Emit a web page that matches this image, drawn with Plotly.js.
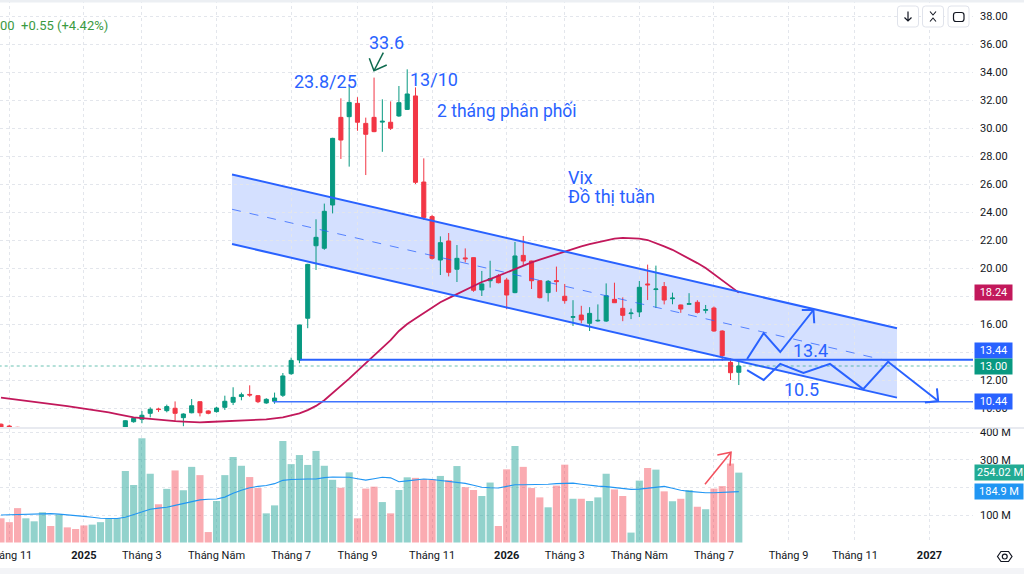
<!DOCTYPE html>
<html><head><meta charset="utf-8">
<script src="https://cdn.plot.ly/plotly-3.0.1.min.js"></script>
<style>html,body{margin:0;padding:0;background:#fff;overflow:hidden}#chart{width:1024px;height:574px}</style>
</head><body><div id="chart"></div>
<script>
// ---- Weekly OHLC (bar index 0..89) ----
const openP = [8.84,8.71,8.62,8.20,8.30,8.35,8.50,8.30,8.45,8.30,8.20,8.05,8.15,8.25,8.30,
8.45,9.02,9.19,9.62,9.93,9.81,9.98,9.31,9.66,10.45,9.79,9.74,10.05,10.41,10.82,10.97,10.88,10.36,10.48,10.91,12.45,13.43,16.41,21.59,21.41,24.50,30.76,30.81,31.76,30.33,30.76,30.42,30.41,30.86,31.33,32.29,26.14,23.67,20.57,21.93,19.91,20.72,20.74,18.43,19.09,19.43,19.14,18.24,20.90,20.50,19.09,18.24,19.10,17.98,16.48,16.64,16.05,16.22,16.21,17.76,17.12,16.74,16.86,18.86,18.46,18.67,17.81,17.36,17.41,17.55,16.98,17.14,15.50,13.26,12.55];
const highP = [8.90,8.80,8.65,8.45,8.50,8.55,8.55,8.55,8.50,8.40,8.30,8.25,8.35,8.45,8.55,
9.12,9.32,9.79,10.05,10.02,10.24,10.47,9.62,10.64,10.47,9.84,10.09,10.88,11.48,11.10,11.62,10.92,10.70,11.10,12.50,13.60,15.95,20.30,23.48,24.60,29.30,32.12,33.07,32.20,30.74,33.60,32.05,31.90,33.00,34.19,32.90,27.83,23.80,22.26,22.50,21.64,21.40,20.76,19.79,20.52,19.57,19.30,21.86,22.29,20.52,19.14,19.14,20.10,18.86,17.70,17.30,17.20,17.40,18.90,18.95,17.90,17.10,19.07,20.24,20.17,19.00,18.24,17.38,18.20,17.70,17.36,17.25,15.55,13.55,13.48];
const lowP = [8.30,8.30,8.20,8.10,8.15,8.25,8.20,8.20,8.20,8.10,7.95,7.95,8.05,8.15,8.20,
8.40,8.95,8.91,9.33,9.72,9.69,9.04,8.70,9.62,9.40,9.55,9.67,9.86,10.21,10.55,10.80,10.35,10.30,10.30,10.79,12.37,13.20,15.70,19.86,21.30,23.90,27.79,27.24,29.80,26.64,29.70,28.30,29.86,30.80,31.29,26.00,23.43,20.60,19.50,19.40,19.00,20.40,18.30,18.00,18.60,18.90,17.05,18.20,20.17,18.50,17.83,17.60,18.30,17.45,15.86,16.05,15.50,16.16,16.15,17.50,16.20,16.35,16.50,17.71,17.14,17.40,17.41,16.80,17.38,16.75,16.76,15.45,13.36,12.00,11.64];
const closeP = [8.50,8.45,8.40,8.35,8.40,8.50,8.35,8.45,8.30,8.20,8.05,8.15,8.25,8.35,8.45,
9.09,9.26,9.48,9.91,9.89,10.10,9.62,9.57,10.16,9.66,9.62,10.00,10.48,10.76,10.95,10.93,10.45,10.62,10.71,12.29,13.40,15.93,20.26,22.19,24.05,29.26,29.14,31.83,30.41,29.55,29.74,30.48,29.98,31.81,32.43,26.12,23.60,20.69,21.81,19.69,20.69,20.66,18.41,18.86,19.24,18.95,18.07,20.86,20.50,19.09,17.88,19.05,19.03,17.67,16.52,16.29,16.76,16.26,18.02,17.52,16.62,16.78,18.62,18.80,18.50,17.71,17.85,17.07,17.45,16.83,17.02,15.50,13.74,12.52,13.00];
// moving average on price (crimson line)
const maPrice = [10.74,10.67,10.59,10.52,10.44,10.37,10.29,10.21,10.13,10.05,9.97,9.89,9.81,9.69,9.57,9.45,9.33,9.27,9.21,9.15,9.09,9.06,9.03,9.00,8.98,9.00,9.02,9.05,9.07,9.10,9.13,9.16,9.19,9.26,9.33,9.47,9.62,9.85,10.15,10.55,11.05,11.55,12.10,12.65,13.20,13.75,14.30,14.85,15.50,16.00,16.40,16.80,17.20,17.55,17.85,18.15,18.45,18.75,19.00,19.20,19.45,19.70,19.95,20.20,20.40,20.60,20.80,20.95,21.15,21.35,21.55,21.70,21.85,22.00,22.10,22.15,22.15,22.10,22.00,21.80,21.55,21.30,21.00,20.70,20.35,20.00,19.55,19.10,18.70,18.24];
// volume (millions) and its moving average
const volume = [88,74,125,88,77,110,60,102,55,49,62,65,74,89,89,260,209,379,250,139,195,262,190,275,245,38,151,245,311,279,238,198,106,135,369,285,318,282,333,279,228,199,255,88,196,203,147,106,191,237,235,230,230,242,227,278,201,191,169,218,60,266,351,275,198,164,128,207,283,159,159,151,164,250,193,169,36,225,271,265,186,150,159,191,130,121,196,205,287,254.02];
const volMA = [100,101,102,103,104,105,105,103,101,98,95,92,88,87,87,92,102,112,121,125,128,135,142,149,155,157,158,165,179,190,199,204,207,214,226,229,231,231,231,236,238,238,237,232,227,232,237,235,221,224,227,231,229,225,221,218,215,208,201,199,198,204,210,210,210,210,212,214,216,216,212,208,205,203,199,196,193,194,198,202,204,197,190,186,183,181,181,182,183,184.9];
// time axis ticks (bar index positions) and labels
const tickPos  = [1,10,17,26,35,43,52,61,68,77,86,95,103,112];
const tickText = ['Tháng 11','<b>2025</b>','Tháng 3','Tháng Năm','Tháng 7','Tháng 9','Tháng 11','<b>2026</b>','Tháng 3','Tháng Năm','Tháng 7','Tháng 9','Tháng 11','<b>2027</b>'];
const priceTicks = [10,12,14,16,18,20,22,24,26,28,30,32,34,36,38];
const priceHidden = [14,18];      // tick labels covered by the value labels
const volTicks = [100,200,300,400];
const volHidden = [200];
// drawn levels
const levels = [13.44, 10.44];

const W=1024,H=574,MR=51,MB=31;
const PW=W-MR, PH=H-MB;
const px = x => x/PW, py = y => (PH-y)/PH;
const P = (x,y) => px(x).toFixed(5)+','+py(y).toFixed(5);

const UP='#089981', DN='#f23645', BLUE='#2962ff', MA='#c2185b', VMA='#2196f3';
const idx = closeP.map((_,i)=>i);
const n = closeP.length;
const volColors = closeP.map((c,i)=> c>=openP[i] ? 'rgba(38,166,154,0.5)' : 'rgba(242,54,69,0.42)');

const traces = [
 {type:'bar', x:idx, y:volume, xaxis:'x', yaxis:'y2', marker:{color:volColors, line:{width:0}}, hoverinfo:'skip'},
 {type:'scatter', mode:'lines', x:idx, y:volMA, xaxis:'x', yaxis:'y2', line:{color:VMA,width:1.1}, hoverinfo:'skip'},
 {type:'scatter', mode:'lines', x:idx, y:maPrice, xaxis:'x', yaxis:'y', line:{color:MA,width:1.8}, hoverinfo:'skip'},
 {type:'candlestick', x:idx, open:openP, high:highP, low:lowP, close:closeP, xaxis:'x', yaxis:'y',
  increasing:{line:{color:UP,width:1}, fillcolor:UP}, decreasing:{line:{color:DN,width:1}, fillcolor:DN},
  whiskerwidth:0, hoverinfo:'skip'}
];

const lineD = (pts, color, width, dash, yref) => ({type:'path', xref:'x', yref:yref||'y', layer:'above',
  path: pts.map((p,i)=>(i?'L':'M')+p[0]+','+p[1]).join(' '), line:{color, width, dash:dash||'solid'}});

const chU = [[27.87,26.68],[108.08,15.69]], chL = [[27.87,21.71],[108.08,10.74]];
const chM = [[27.87,(26.68+21.71)/2],[108.08,(15.69+10.74)/2]];

function roundRect(x0,y0,x1,y1,r){
  return `M${P(x0+r,y0)} L${P(x1-r,y0)} Q${P(x1,y0)} ${P(x1,y0+r)} L${P(x1,y1-r)} Q${P(x1,y1)} ${P(x1-r,y1)} L${P(x0+r,y1)} Q${P(x0,y1)} ${P(x0,y1-r)} L${P(x0,y0+r)} Q${P(x0,y0)} ${P(x0+r,y0)} Z`;
}
const ICON='#131722';
const shapes = [
 {type:'path', xref:'x', yref:'y', layer:'below', path:`M${chU[0][0]},${chU[0][1]} L${chU[1][0]},${chU[1][1]} L${chL[1][0]},${chL[1][1]} L${chL[0][0]},${chL[0][1]} Z`, fillcolor:'rgba(41,98,255,0.2)', line:{width:0}},
 lineD(chU, BLUE, 2), lineD(chL, BLUE, 2), lineD(chM, 'rgba(41,98,255,0.75)', 1, 'dash'),
 {type:'line', xref:'x', yref:'y', x0:36.07, x1:117.3, y0:levels[0], y1:levels[0], line:{color:BLUE,width:2}, layer:'above'},
 {type:'line', xref:'x', yref:'y', x0:32.85, x1:117.3, y0:levels[1], y1:levels[1], line:{color:'#3f74ff',width:1.5}, layer:'above'},
 {type:'line', xref:'x', yref:'y', x0:-1, x1:117.3, y0:closeP[n-1], y1:closeP[n-1], line:{color:'rgba(8,153,129,0.6)',width:1,dash:'dot'}, layer:'above'},
 lineD([[90,13.5],[92,15.35],[94,14.0],[98,17.0]], BLUE, 2),
 lineD([[96.6,17.0],[98,17.0],[98.1,16.05]], BLUE, 2),
 lineD([[90,12.7],[92,12.0],[94,13.15],[96.8,12.5],[100,13.15],[104,11.35],[107,13.3],[113.05,10.5]], BLUE, 2),
 lineD([[112.9,11.4],[113.05,10.5],[111.45,10.4]], BLUE, 2),
 lineD([[46.12,35.38],[44.99,34.09]], '#0f6b4f', 1.5),
 lineD([[44.43,34.98],[44.99,34.09],[46.53,34.5]], '#0f6b4f', 1.5),
 lineD([[84.92,211.6],[88.06,328]], '#f2505d', 1.5, 'solid', 'y2'),
 lineD([[86.41,318],[88.06,328],[87.94,279]], '#f2505d', 1.5, 'solid', 'y2'),
 {type:'line', xref:'paper', yref:'paper', x0:0, x1:px(1024), y0:py(428), y1:py(428), line:{color:'#e0e3eb',width:1.5}},
 {type:'rect', xref:'paper', yref:'paper', x0:0, x1:px(1024), y0:py(0), y1:py(2.5), fillcolor:'#eceff3', line:{width:0}},
 {type:'rect', xref:'paper', yref:'paper', x0:0, x1:px(1024), y0:py(568), y1:py(574), fillcolor:'#f3f4f7', line:{width:0}},
 {type:'path', xref:'paper', yref:'paper', path:roundRect(897.5,6,918.5,27,3), fillcolor:'#ffffff', line:{color:'#e0e3eb',width:1}},
 {type:'path', xref:'paper', yref:'paper', path:roundRect(922.5,6,943.5,27,3), fillcolor:'#ffffff', line:{color:'#e0e3eb',width:1}},
 {type:'path', xref:'paper', yref:'paper', path:roundRect(948,6,969,27,3), fillcolor:'#ffffff', line:{color:'#e0e3eb',width:1}},
 {type:'path', xref:'paper', yref:'paper', path:`M${P(908,11.5)} L${P(908,21)} M${P(904.5,17.5)} L${P(908,21)} L${P(911.5,17.5)}`, line:{color:ICON,width:1.2}},
 {type:'path', xref:'paper', yref:'paper', path:`M${P(930,11.5)} L${P(933,15)} L${P(936,11.5)} M${P(930,21.5)} L${P(933,18)} L${P(936,21.5)}`, line:{color:ICON,width:1.1}},
 {type:'path', xref:'paper', yref:'paper', path:roundRect(953.5,12.5,964,21.5,2.5), line:{color:ICON,width:1.2}},
 {type:'path', xref:'paper', yref:'paper', path:`M${P(997.5,556.5)} L${P(1001,551.5)} L${P(1008.5,551.5)} L${P(1012,556.5)} L${P(1008.5,561.5)} L${P(1001,561.5)} Z`, line:{color:ICON,width:1.2}},
 {type:'circle', xref:'paper', yref:'paper', x0:px(1002.3), x1:px(1007.2), y0:py(554.1), y1:py(559), line:{color:ICON,width:1.2}}
];

const T = (text,x,y,o) => Object.assign({text,x,y,xref:'x',yref:'y',showarrow:false,font:{family:'Roboto',size:18,color:BLUE}},o||{});
const lab = (text,y,yref,bg,w,ys) => ({text, xref:'paper', x:px(974), xanchor:'left', yref, y, yshift:ys||0, showarrow:false,
  bgcolor:bg, width:w, height:15, borderpad:0, align:'center', font:{family:'Roboto',size:11,color:'#ffffff'}});
const annotations = [
 T('23.8/25',39.2,33.29), T('33.6',46.56,36.14), T('13/10',52.23,33.5),
 T('2 tháng phân phối',52.4,31.21,{xanchor:'left',font:{family:'Roboto',size:17.5,color:BLUE}}),
 T('Vix',68.2,26.43,{xanchor:'left'}), T('Đồ thị tuần',68.2,25.14,{xanchor:'left'}),
 T('13.4',97.59,14.14), T('10.5',96.62,11.29),
 {text:'13.00  +0.55 (+4.42%)', xref:'paper', yref:'paper', x:px(-20), xanchor:'left', y:py(16), showarrow:false, font:{family:'Roboto',size:13,color:'#3a9a3f'}},
 lab(maPrice[n-1].toFixed(2), maPrice[n-1], 'y', MA, 37),
 lab(levels[0].toFixed(2), levels[0], 'y', BLUE, 37, 9),
 lab(closeP[n-1].toFixed(2), closeP[n-1], 'y', UP, 37),
 lab(levels[1].toFixed(2), levels[1], 'y', BLUE, 37),
 lab(volume[n-1].toFixed(2)+' M', volume[n-1], 'y2', '#22ab94', 50),
 lab(volMA[n-1].toFixed(1)+' M', volMA[n-1], 'y2', VMA, 48)
];

const grid = {showgrid:true, gridcolor:'#e3e6ec', griddash:'dot', gridwidth:1, zeroline:false, showline:false, ticks:''};
const layout = {
  width:W, height:H, margin:{l:0,r:MR,t:0,b:MB}, paper_bgcolor:'#fff', plot_bgcolor:'#fff',
  showlegend:false, font:{family:'Roboto',color:'#131722'}, bargap:0.14,
  xaxis: Object.assign({}, grid, {range:[-0.12,117.25], anchor:'y2', tickmode:'array', tickvals:tickPos, ticktext:tickText,
     tickfont:{size:11,color:'#131722'}, rangeslider:{visible:false}, ticklabelstandoff:4, ticklabeloverflow:'allow'}),
  yaxis: Object.assign({}, grid, {domain:[py(427),1], range:[8.643,39.143], side:'right', anchor:'x', tickmode:'array',
     tickvals:priceTicks, ticktext:priceTicks.map(v=>priceHidden.includes(v)?'':v.toFixed(2)), tickfont:{size:11,color:'#131722'}, ticklabelstandoff:6}),
  yaxis2: Object.assign({}, grid, {domain:[0,py(429)], range:[-1.82,412.7], side:'right', anchor:'x', tickmode:'array',
     tickvals:volTicks, ticktext:volTicks.map(v=>volHidden.includes(v)?'':v+' M'), tickfont:{size:11,color:'#131722'}, ticklabelstandoff:6}),
  shapes, annotations
};
Plotly.newPlot('chart', traces, layout, {staticPlot:true, displayModeBar:false});
</script></body></html>
